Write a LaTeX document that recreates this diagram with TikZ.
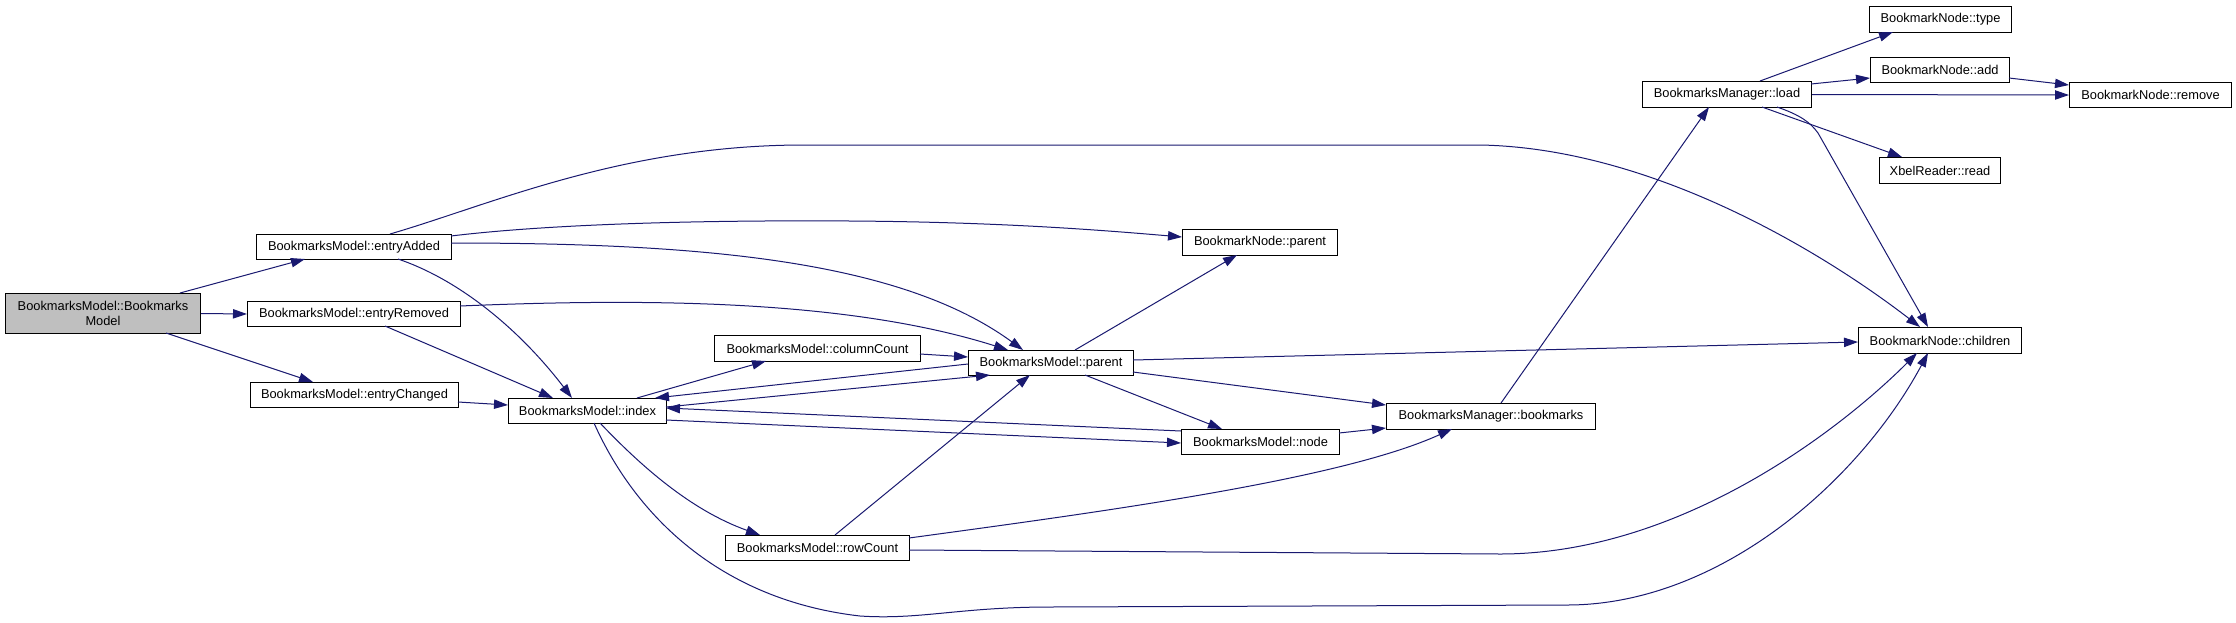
\documentclass[tikz,border=0pt]{standalone}
\usepackage{fontspec}
\setmainfont{Liberation Sans}
\usetikzlibrary{calc,arrows.meta}
\definecolor{edgecol}{HTML}{191970}
\definecolor{rootfill}{HTML}{BFBFBF}
\tikzset{
  fn/.style={draw=black, line width=0.75pt, rectangle, inner sep=0pt, fill=white,
    anchor=north west, align=center, font=\fontsize{9.63}{10.8}\selectfont},
  call/.style={draw=edgecol, line width=0.75pt, -{Triangle[length=10.5pt,width=7pt]}},
}
\begin{document}
\begin{tikzpicture}[x=0.75pt,y=-0.75pt]
\path[use as bounding box, fill=white] (0,0) rectangle (2236,622);

\node[fn, fill=rootfill, minimum width=146.25pt, minimum height=30pt] (gray) at (5,293) {BookmarksModel::Bookmarks\\Model};
\node[fn, minimum width=146.25pt, minimum height=18.75pt] (eAdd) at (256,234) {BookmarksModel::entryAdded};
\node[fn, minimum width=159.75pt, minimum height=18.75pt] (eRem) at (247,301) {BookmarksModel::entryRemoved};
\node[fn, minimum width=156pt, minimum height=18.75pt] (eChg) at (250,382) {BookmarksModel::entryChanged};
\node[fn, minimum width=118.5pt, minimum height=18.75pt] (index) at (508,398) {BookmarksModel::index};
\node[fn, minimum width=154.5pt, minimum height=19.5pt] (colC) at (714,335) {BookmarksModel::columnCount};
\node[fn, minimum width=123.75pt, minimum height=18.75pt] (mpar) at (968,350) {BookmarksModel::parent};
\node[fn, minimum width=138pt, minimum height=18.75pt] (rowC) at (725,535) {BookmarksModel::rowCount};
\node[fn, minimum width=116.25pt, minimum height=19.5pt] (npar) at (1182,229) {BookmarkNode::parent};
\node[fn, minimum width=118.5pt, minimum height=18.75pt] (mnode) at (1181,429) {BookmarksModel::node};
\node[fn, minimum width=156.75pt, minimum height=19.5pt] (bkm) at (1386,403) {BookmarksManager::bookmarks};
\node[fn, minimum width=126.75pt, minimum height=19.5pt] (load) at (1642,81) {BookmarksManager::load};
\node[fn, minimum width=106.5pt, minimum height=19.5pt] (type) at (1869,6) {BookmarkNode::type};
\node[fn, minimum width=104.25pt, minimum height=18.75pt] (add) at (1870,57) {BookmarkNode::add};
\node[fn, minimum width=121.5pt, minimum height=18.75pt] (remove) at (2069,82) {BookmarkNode::remove};
\node[fn, minimum width=90.75pt, minimum height=19.5pt] (read) at (1879,157) {XbelReader::read};
\node[fn, minimum width=122.25pt, minimum height=19.5pt] (children) at (1858,327) {BookmarkNode::children};

% edges
\draw[call] ($(gray.north west)+(175,0)$) -- ($(eAdd.north west)+(49,25)$);
\draw[call] (gray.east) -- (eRem.west);
\draw[call] ($(gray.north west)+(161,40)$) -- ($(eChg.north west)+(63,0)$);
\draw[call] ($(eAdd.north west)+(134,0)$) .. controls (490,205) and (620,146) .. (800,145) -- (1480,145) .. controls (1650,148) and (1820,250) .. ($(children.north west)+(62,0)$);
\draw[call] ($(eAdd.north west)+(195,2)$) .. controls (550,224) and (700,220) .. (850,221) .. controls (1000,222) and (1100,230) .. ($(npar.north west)+(0,8)$);
\draw[call] ($(eAdd.north west)+(195,9)$) .. controls (700,243) and (900,260) .. ($(mpar.north west)+(55,0)$);
\draw[call] ($(eRem.north west)+(213,5)$) .. controls (650,298) and (850,300) .. ($(mpar.north west)+(40,0)$);
\draw[call] ($(eAdd.north west)+(142,25)$) .. controls (460,280) and (520,330) .. ($(index.north west)+(64,0)$);
\draw[call] ($(eRem.north west)+(138,25)$) -- ($(index.north west)+(45,0)$);
\draw[call] ($(eChg.north west)+(208,20)$) -- ($(index.north west)+(0,7)$);
\draw[call] ($(index.north west)+(129,0)$) -- ($(colC.north west)+(52,26)$);
\draw[call] ($(colC.north west)+(206,19)$) -- ($(mpar.north west)+(0,7)$);
\draw[call] ($(mpar.north west)+(0,14)$) -- ($(index.north west)+(147,0)$);
\draw[call] ($(index.north west)+(158,9)$) -- ($(mpar.north west)+(22,25)$);
\draw[call] ($(mnode.north west)+(0,2)$) -- ($(index.north west)+(158,10)$);
\draw[call] ($(index.north west)+(158,22)$) -- ($(mnode.north west)+(0,14)$);
\draw[call] ($(index.north west)+(92,25)$) .. controls (640,465) and (690,510) .. ($(rowC.north west)+(35,0)$);
\draw[call] ($(index.north west)+(86,25)$) .. controls (635,515) and (720,600) .. (860,616) .. controls (920,620) and (960,607) .. (1050,607) -- (1567,605) .. controls (1720,605) and (1860,480) .. ($(children.north west)+(70,26)$);
\draw[call] ($(rowC.north west)+(110,0)$) -- ($(mpar.north west)+(62,25)$);
\draw[call] ($(rowC.north west)+(184,3)$) .. controls (1100,512) and (1340,480) .. ($(bkm.north west)+(66,26)$);
\draw[call] ($(rowC.north west)+(184,15)$) -- (1500,554) .. controls (1680,554) and (1840,430) .. ($(children.north west)+(59,26)$);
\draw[call] ($(mpar.north west)+(107,0)$) -- ($(npar.north west)+(55,26)$);
\draw[call] ($(mpar.north west)+(165,10)$) -- ($(children.north west)+(0,15)$);
\draw[call] ($(mpar.north west)+(165,22)$) -- ($(bkm.north west)+(0,2)$);
\draw[call] ($(mpar.north west)+(117,25)$) -- ($(mnode.north west)+(41,0)$);
\draw[call] ($(mnode.north west)+(158,4)$) -- ($(bkm.north west)+(0,25)$);
\draw[call] ($(bkm.north west)+(115,0)$) -- ($(load.north west)+(67,26)$);
\draw[call] ($(load.north west)+(118,0)$) -- ($(type.north west)+(24,26)$);
\draw[call] ($(load.north west)+(169,3)$) -- ($(add.north west)+(0,21)$);
\draw[call] ($(add.north west)+(139,21)$) -- ($(remove.north west)+(0,3)$);
\draw[call] (load.east) -- (remove.west);
\draw[call] ($(load.north west)+(120,26)$) -- ($(read.north west)+(23,0)$);
\draw[call] ($(load.north west)+(135,26)$) .. controls (1800,115) and (1810,122) .. (1818,133) -- ($(children.north west)+(70,0)$);
\end{tikzpicture}
\end{document}
